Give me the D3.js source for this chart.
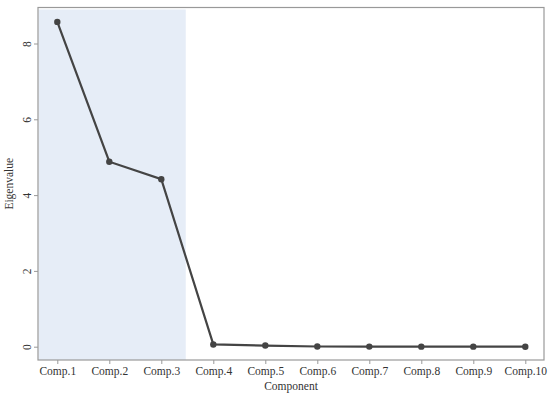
<!DOCTYPE html>
<html>
<head>
<meta charset="utf-8">
<script src="https://cdn.jsdelivr.net/npm/d3@7"></script>
<style>
  body { margin: 0; background: #fff; }
  text { font-family: "Palatino Linotype", "Book Antiqua", Palatino, "Liberation Serif", serif; fill: #333; }
</style>
</head>
<body>
<div class="chart"></div>
<script>
// scree plot data
var components = ["Comp.1", "Comp.2", "Comp.3", "Comp.4", "Comp.5", "Comp.6", "Comp.7", "Comp.8", "Comp.9", "Comp.10"];
var eigenvalues = [8.57, 4.88, 4.42, 0.06, 0.03, 0.005, 0.002, 0.001, 0.001, 0.0005];
var yTicks = [0, 2, 4, 6, 8];
var shadeUntil = 3.47; // shaded band covers first three components

var width = 550, height = 396;
var plotL = 38, plotR = 544, plotT = 7.5, plotB = 360;

var svg = d3.select(".chart").append("svg")
  .attr("width", width)
  .attr("height", height);

var x = d3.scaleLinear().domain([1, 10]).range([57.3, 525.3]);
var y = d3.scaleLinear().domain([0, 8]).range([346.7, 43.5]);

// shaded band
svg.append("rect")
  .attr("x", plotL + 0.5)
  .attr("y", plotT + 2)
  .attr("width", x(shadeUntil) - plotL - 0.5)
  .attr("height", plotB - plotT - 2)
  .attr("fill", "#e6edf7");

// frame
svg.append("rect")
  .attr("x", plotL)
  .attr("y", plotT)
  .attr("width", plotR - plotL)
  .attr("height", plotB - plotT)
  .attr("fill", "none")
  .attr("stroke", "#999")
  .attr("stroke-width", 1.2);

// y axis
var yAxis = svg.append("g")
  .attr("transform", "translate(" + plotL + ",0)")
  .call(d3.axisLeft(y).tickValues(yTicks).tickSize(4).tickFormat(d3.format("d")));
yAxis.select(".domain").remove();
yAxis.selectAll(".tick line").attr("stroke", "#999");
yAxis.selectAll(".tick text")
  .attr("x", 0).attr("y", 0).attr("dy", 0)
  .attr("transform", "translate(-7,0) rotate(-90)")
  .attr("text-anchor", "middle")
  .style("font-size", "11.5px");

// x axis
var xAxis = svg.append("g")
  .attr("transform", "translate(0," + plotB + ")")
  .call(d3.axisBottom(x).tickValues(d3.range(1, 11)).tickSize(4).tickPadding(3)
    .tickFormat(function (d) { return components[d - 1]; }));
xAxis.select(".domain").remove();
xAxis.selectAll(".tick line").attr("stroke", "#999");
xAxis.selectAll(".tick text").style("font-size", "11.5px").attr("fill", "#333");

// axis titles
svg.append("text")
  .attr("x", (plotL + plotR) / 2)
  .attr("y", 389.5)
  .attr("text-anchor", "middle")
  .style("font-size", "11.5px")
  .text("Component");

svg.append("text")
  .attr("transform", "translate(13," + ((plotT + plotB) / 2) + ") rotate(-90)")
  .attr("text-anchor", "middle")
  .style("font-size", "11.5px")
  .text("Eigenvalue");

// line + points
var pts = eigenvalues.map(function (v, i) { return [i + 1, v]; });

svg.append("path")
  .datum(pts)
  .attr("d", d3.line().x(function (d) { return x(d[0]); }).y(function (d) { return y(d[1]); }))
  .attr("fill", "none")
  .attr("stroke", "#444")
  .attr("stroke-width", 2.2);

svg.selectAll(".pt")
  .data(pts)
  .enter().append("circle")
  .attr("class", "pt")
  .attr("cx", function (d) { return x(d[0]); })
  .attr("cy", function (d) { return y(d[1]); })
  .attr("r", 3.2)
  .attr("fill", "#444");
</script>
</body>
</html>
